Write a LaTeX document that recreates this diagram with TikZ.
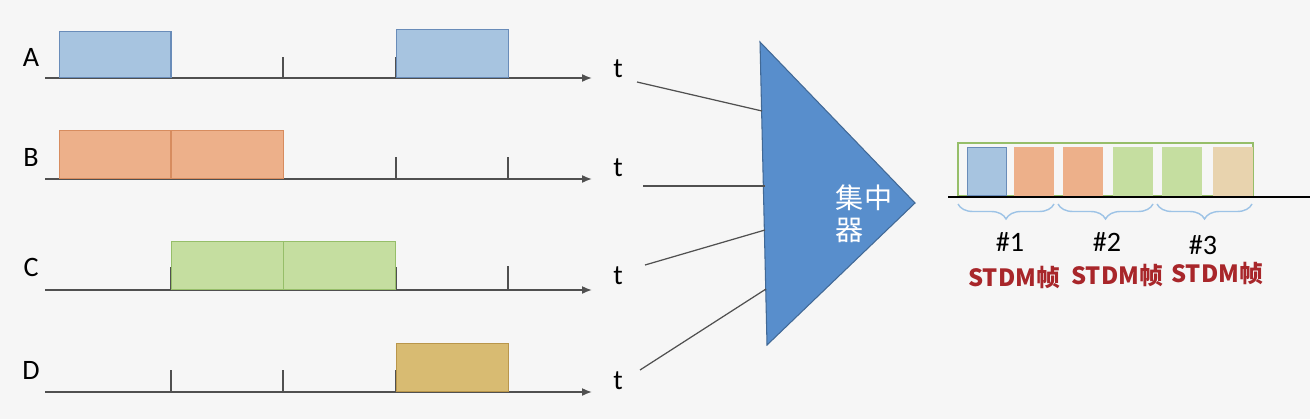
\documentclass[tikz,border=0pt]{standalone}
\usepackage{fontspec}
\setmainfont{Carlito}
\newfontfamily\cjk{Noto Sans CJK SC}
\usetikzlibrary{positioning, decorations.pathreplacing, arrows.meta}

\definecolor{bgGray}{RGB}{246,246,246}
\definecolor{axisGray}{RGB}{80,80,80}
\definecolor{sigBlue}{RGB}{167,196,224}
\definecolor{sigBlueD}{RGB}{105,140,185}
\definecolor{sigOrange}{RGB}{237,176,138}
\definecolor{sigOrangeD}{RGB}{215,140,95}
\definecolor{sigGreen}{RGB}{197,222,160}
\definecolor{sigGreenD}{RGB}{150,190,105}
\definecolor{sigTan}{RGB}{216,187,114}
\definecolor{sigTanD}{RGB}{185,150,75}
\definecolor{sigTanL}{RGB}{232,211,174}
\definecolor{muxBlue}{RGB}{88,142,204}
\definecolor{muxBlueD}{RGB}{65,105,150}
\definecolor{frameRed}{RGB}{168,38,42}
\definecolor{braceBlue}{RGB}{157,195,230}

\begin{document}
\begin{tikzpicture}[
    x=0.02cm, y=-0.02cm,
    node distance=0.2cm,
    axis/.style={-{Latex[length=0.2cm, width=0.16cm]}, line width=0.9pt, draw=axisGray},
    tickmark/.style={line width=0.7pt, draw=axisGray},
    slot/.style={rectangle, line width=0.6pt, minimum width=2.24cm, minimum height=0.96cm, inner sep=0pt, anchor=south west},
    mini/.style={rectangle, line width=0.5pt, minimum width=0.78cm, minimum height=0.96cm, inner sep=0pt, anchor=south west},
    chan/.style={font=\fontsize{16pt}{18pt}\selectfont, inner sep=1pt},
    feed/.style={line width=0.7pt, draw=axisGray},
    mux/.style={fill=muxBlue, draw=muxBlueD, line width=0.6pt},
    grp/.style={decorate, decoration={brace, mirror, amplitude=0.3cm}, draw=braceBlue, line width=0.8pt},
    frameLbl/.style={font=\cjk\bfseries\fontsize{13.5pt}{15pt}\selectfont, text=frameRed, inner sep=1pt}
]

% background
\fill[bgGray] (0,0) rectangle (1310,419);
\useasboundingbox (0,0) rectangle (1310,419);

% channel labels
\node[chan] (labA) at (31,57) {A};
\node[chan] (labB) at (31,157) {B};
\node[chan] (labC) at (31,267) {C};
\node[chan] (labD) at (31,370) {D};

% time axes
\draw[axis] (45,78) -- (592,78);
\draw[axis] (45,179) -- (592,179);
\draw[axis] (45,290) -- (592,290);
\draw[axis] (45,392) -- (592,392);

\node[chan] (tA) at (618,69) {t};
\node[chan] (tB) at (618,168) {t};
\node[chan] (tC) at (618,276) {t};
\node[chan] (tD) at (618,381) {t};

% slot boundaries
\draw[tickmark] (283,57) -- (283,78) (396,57) -- (396,78);
\draw[tickmark] (283,157) -- (283,179) (396,157) -- (396,179) (508,157) -- (508,179);
\draw[tickmark] (171,267) -- (171,290) (396,267) -- (396,290) (508,266) -- (508,290);
\draw[tickmark] (171,370) -- (171,392) (283,370) -- (283,392) (396,370) -- (396,392);

% data of each user
\node[slot, fill=sigBlue, draw=sigBlueD, minimum height=0.92cm] (a1) at (58.5,78) {};
\node[slot, fill=sigBlue, draw=sigBlueD] (a2) at (395.7,78) {};
\node[slot, fill=sigOrange, draw=sigOrangeD] (b1) at (58.5,179) {};
\node[slot, fill=sigOrange, draw=sigOrangeD] (b2) at (170.9,179) {};
\node[slot, fill=sigGreen, draw=sigGreenD] (c1) at (170.9,290) {};
\node[slot, fill=sigGreen, draw=sigGreenD] (c2) at (283.3,290) {};
\node[slot, fill=sigTan, draw=sigTanD] (d1) at (395.7,392) {};

% concentrator
\coordinate (muxTop) at (760,42);
\coordinate (muxTip) at (915,203);
\coordinate (muxBot) at (767,345);
\draw[mux] (muxTop) -- (muxTip) -- (muxBot) -- cycle;
\node[font=\cjk\fontsize{16pt}{18pt}\selectfont, text=white, align=left, inner sep=0pt] (muxLbl) at (864,214) {集中\\器};

\coordinate (fromA) at (637,82);
\coordinate (fromB) at (643,186);
\coordinate (fromC) at (645,265);
\coordinate (fromD) at (640,370);
\coordinate (inA) at (762,111);
\coordinate (inB) at (765,186);
\coordinate (inC) at (765,230);
\coordinate (inD) at (766,289);
\draw[feed] (fromA) -- (inA);
\draw[feed] (fromB) -- (inB);
\draw[feed] (fromC) -- (inC);
\draw[feed] (fromD) -- (inD);

% STDM frames
\draw[draw=sigGreenD, line width=0.6pt] (958,143) rectangle (1253,196);
\node[mini, fill=sigBlue, draw=sigBlueD] (f1) at (967,196) {};
\node[mini, fill=sigOrange, draw=sigOrange] (f2) at (1014,196) {};
\node[mini, fill=sigOrange, draw=sigOrange] (f3) at (1063,196) {};
\node[mini, fill=sigGreen, draw=sigGreen] (f4) at (1113,196) {};
\node[mini, fill=sigGreen, draw=sigGreen] (f5) at (1162,196) {};
\node[mini, fill=sigTanL, draw=sigTanL] (f6) at (1213,196) {};
\draw[line width=1.6pt] (948,197) -- (1310,197);

\draw[grp] (958,204) -- (1054,204);
\draw[grp] (1058,204) -- (1153,204);
\draw[grp] (1157,204) -- (1252,204);

\node[chan] (n1) at (1010,242) {\#1};
\node[chan] (n2) at (1107,242) {\#2};
\node[chan] (n3) at (1203,245) {\#3};
\node[frameLbl] (s1) at (1014,277) {STDM帧};
\node[frameLbl] (s2) at (1117,275) {STDM帧};
\node[frameLbl] (s3) at (1217,273) {STDM帧};

\end{tikzpicture}
\end{document}
